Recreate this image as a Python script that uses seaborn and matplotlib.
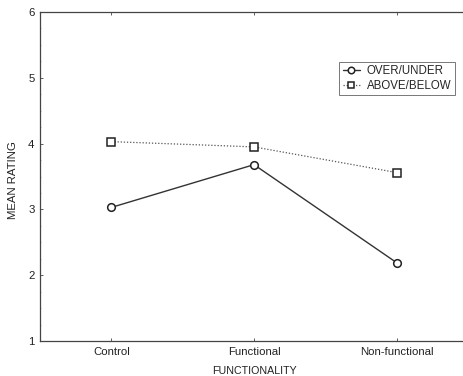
import matplotlib
matplotlib.use('Agg')
import matplotlib.pyplot as plt
import seaborn as sns
import pandas as pd
from matplotlib.ticker import AutoMinorLocator

# Data
categories = ['Control', 'Functional', 'Non-functional']
over_under = [3.03, 3.68, 2.19]
above_below = [4.03, 3.95, 3.56]

sns.set_style('ticks')
plt.rcParams['font.family'] = ['Liberation Sans', 'DejaVu Sans']

df = pd.DataFrame({
    'FUNCTIONALITY': categories * 2,
    'MEAN RATING': over_under + above_below,
    'series': ['OVER/UNDER'] * 3 + ['ABOVE/BELOW'] * 3,
})

fig = plt.figure(figsize=(4.64, 3.76), dpi=100)
ax = fig.add_axes([40 / 464, 35 / 376, 428 / 464, 329 / 376])

sub = df[df['series'] == 'OVER/UNDER']
sns.lineplot(data=sub, x='FUNCTIONALITY', y='MEAN RATING', ax=ax, color='#333333',
             linewidth=1.0, marker='o', markersize=5.5, markerfacecolor='white',
             markeredgecolor='#222222', markeredgewidth=1.1, label='OVER/UNDER')
sub = df[df['series'] == 'ABOVE/BELOW']
sns.lineplot(data=sub, x='FUNCTIONALITY', y='MEAN RATING', ax=ax, color='#555555',
             linewidth=0.9, linestyle=(0, (1, 1.5)), marker='s', markersize=5.5,
             markerfacecolor='white', markeredgecolor='#222222', markeredgewidth=1.1,
             label='ABOVE/BELOW')

ax.set_xlim(-0.5, 2.5)
ax.set_ylim(1, 6)
ax.set_yticks([1, 2, 3, 4, 5, 6])
ax.yaxis.set_minor_locator(AutoMinorLocator(4))
ax.tick_params(direction='in', length=2, width=0.6, labelsize=8.2, colors='#444444',
               labelcolor='#222222', top=True, right=False, pad=4)
ax.tick_params(which='minor', direction='in', length=1, width=0.4, colors='#888888')
for side in ['left', 'bottom', 'top']:
    ax.spines[side].set_color('#444444')
    ax.spines[side].set_linewidth(0.9)
ax.spines['right'].set_visible(False)

ax.set_xlabel('FUNCTIONALITY', fontsize=7.7, color='#222222', labelpad=7)
ax.set_ylabel('MEAN RATING', fontsize=8.2, color='#222222')
ax.yaxis.set_label_coords(-0.051, 0.49)

leg = ax.legend(loc='upper left', bbox_to_anchor=(0.699, 0.848), fontsize=8.3,
                frameon=True, fancybox=False, edgecolor='#777777', framealpha=1,
                handlelength=1.5, handletextpad=0.6, borderpad=0.3, labelspacing=0.22,
                borderaxespad=0, markerscale=0.85)
leg.get_frame().set_linewidth(0.7)

fig.savefig('out.png', dpi=100)
